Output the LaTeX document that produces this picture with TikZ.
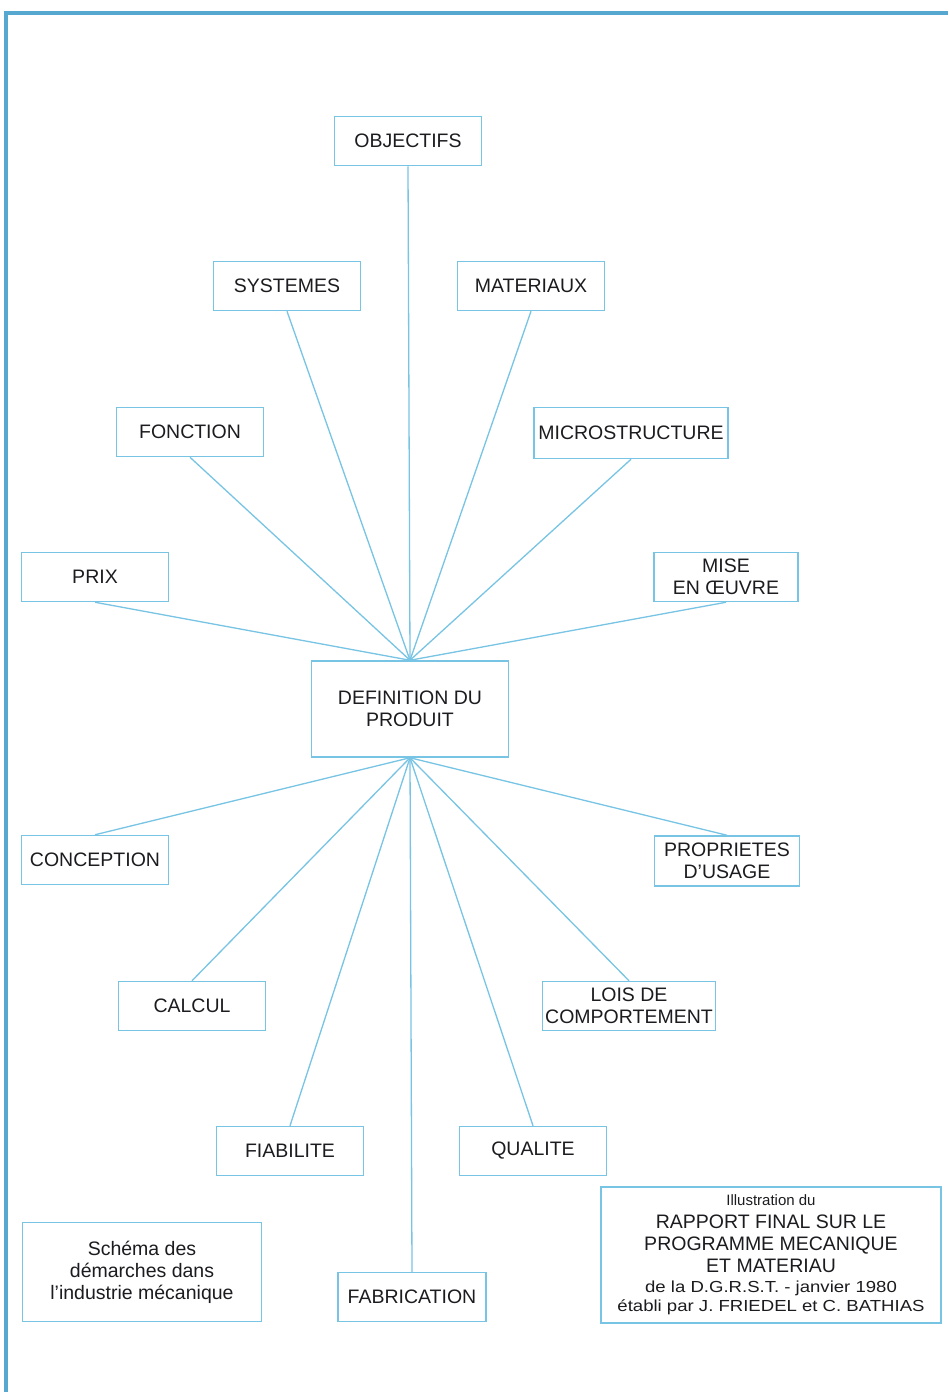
\documentclass[tikz,border=0pt]{standalone}
\usepackage{fontspec}
\setmainfont{Liberation Sans}
\newfontfamily\widefont[FakeStretch=1.16]{Liberation Sans}
\definecolor{boxblue}{RGB}{120,196,228}
\definecolor{frameblue}{RGB}{86,168,208}
\definecolor{inkgray}{RGB}{28,28,32}
\tikzset{
  box/.style={draw=boxblue, line width=1.5pt, inner sep=0pt, text=inkgray,
    minimum width=147, minimum height=49, align=center,
    font=\fontsize{19.5}{22}\selectfont},
  link/.style={draw=boxblue, line width=1.3pt},
  frameline/.style={draw=frameblue, line width=4pt}
}
\begin{document}
\begin{tikzpicture}[x=1pt,y=-1pt]
\useasboundingbox[fill=white] (0,0) rectangle (948,1392);
\draw[frameline] (948,13) -- (6,13) -- (6,1392);

\node[box] (obj) at (408,141) {OBJECTIFS};
\node[box] (sys) at (287,286) {SYSTEMES};
\node[box] (mat) at (531,286) {MATERIAUX};
\node[box] (fon) at (190,432) {FONCTION};
\node[box, minimum width=194, minimum height=51] (mic) at (631,433) {MICROSTRUCTURE};
\node[box] (prix) at (95,577) {PRIX};
\node[box, minimum width=144] (mise) at (726,577) {MISE\\EN \OE UVRE};
\node[box, minimum width=197, minimum height=96] (def) at (410,709) {DEFINITION DU\\PRODUIT};
\node[box] (con) at (95,860) {CONCEPTION};
\node[box, minimum width=145, minimum height=50] (pro) at (727,861) {PROPRIETES\\D'USAGE};
\node[box] (cal) at (192,1006) {CALCUL};
\node[box, minimum width=173] (lois) at (629,1006) {LOIS DE\\COMPORTEMENT};
\node[box] (fia) at (290,1151) {FIABILITE};
\node[box] (qua) at (533,1151) {QUALITE};
\node[box, minimum width=148] (fab) at (412,1297) {FABRICATION};
\node[box, minimum width=239, minimum height=99] (sch) at (142,1272)
  {Schéma des\\démarches dans\\l'industrie mécanique};
\node[box, minimum width=340, minimum height=136] (ill) at (771,1255)
  {{\fontsize{15}{17}\selectfont Illustration du}\\[1pt]
   RAPPORT FINAL SUR LE\\
   PROGRAMME MECANIQUE\\
   ET MATERIAU\\[-2pt]
   {\widefont\fontsize{16}{18}\selectfont de la D.G.R.S.T. - janvier 1980}\\[-3pt]
   {\widefont\fontsize{16}{18}\selectfont établi par J. FRIEDEL et C. BATHIAS}};

\foreach \n in {obj,sys,mat,fon,mic,prix,mise}
  \draw[link] (\n.south) -- (def.north);
\foreach \n in {con,pro,cal,lois,fia,qua,fab}
  \draw[link] (\n.north) -- (def.south);
\end{tikzpicture}
\end{document}
